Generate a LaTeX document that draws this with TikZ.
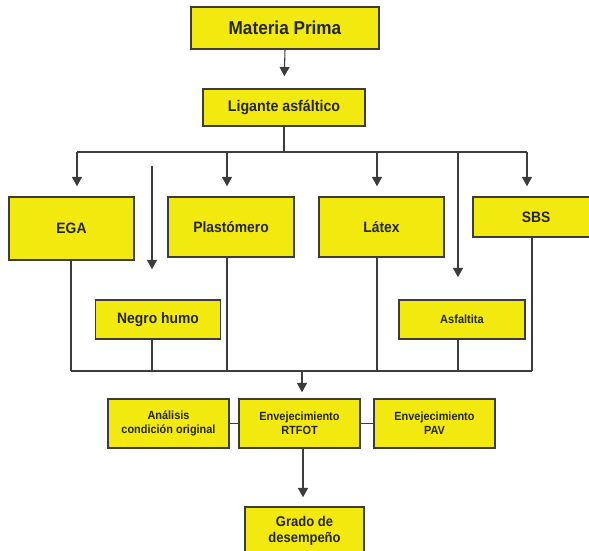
\documentclass[tikz,border=0pt]{standalone}
\usepackage{fontspec}
\setmainfont{Liberation Sans}[FakeStretch=0.92]
\usetikzlibrary{arrows.meta}
\definecolor{boxyellow}{RGB}{242,233,14}
\definecolor{lineg}{RGB}{60,60,60}
\tikzset{
  box/.style={draw=lineg, line width=1.1pt, fill=boxyellow, rectangle, inner sep=0pt,
    align=center, font=\bfseries, text=black!85},
  conn/.style={draw=lineg, line width=0.8pt},
  arr/.style={conn, -{Triangle[width=7.5pt,length=7pt]}},
}
\begin{document}
\begin{tikzpicture}[x=0.75pt,y=-0.75pt]
\useasboundingbox (0,0) rectangle (589,550);
\clip (0,0) rectangle (589,550);
% nodes
\node[box, minimum width=188*0.75pt, minimum height=42*0.75pt, font=\bfseries\fontsize{14}{16}\selectfont] (mp) at (285,28) {Materia Prima};
\node[box, minimum width=162*0.75pt, minimum height=37*0.75pt, font=\bfseries\fontsize{11.6}{13}\selectfont] (lig) at (284,107.5) {Ligante asfáltico};
\node[box, minimum width=125*0.75pt, minimum height=63*0.75pt, font=\bfseries\fontsize{11.3}{13}\selectfont] (ega) at (71.5,228.5) {EGA};
\node[box, minimum width=126*0.75pt, minimum height=60*0.75pt, font=\bfseries\fontsize{11.3}{13}\selectfont] (pla) at (231,227) {Plastómero};
\node[box, minimum width=125*0.75pt, minimum height=60*0.75pt, font=\bfseries\fontsize{11.3}{13}\selectfont] (lat) at (381.5,227) {Látex};
\node[box, minimum width=126*0.75pt, minimum height=40*0.75pt, font=\bfseries\fontsize{11.3}{13}\selectfont] (sbs) at (536,217) {SBS};
\node[box, minimum width=125*0.75pt, minimum height=39*0.75pt, font=\bfseries\fontsize{11.3}{13}\selectfont] (neg) at (158,319.5) {Negro humo};
\node[box, minimum width=126*0.75pt, minimum height=39*0.75pt, font=\bfseries\fontsize{9}{11}\selectfont] (asf) at (462,319.5) {Asfaltita};
\node[box, minimum width=121*0.75pt, minimum height=49*0.75pt, font=\bfseries\fontsize{8.9}{10.5}\selectfont] (ana) at (168.5,423.5) {Análisis\\condición original};
\node[box, minimum width=121*0.75pt, minimum height=49*0.75pt, font=\bfseries\fontsize{8.9}{10.5}\selectfont] (rtf) at (299.5,423.5) {Envejecimiento\\RTFOT};
\node[box, minimum width=121*0.75pt, minimum height=49*0.75pt, font=\bfseries\fontsize{8.9}{10.5}\selectfont] (pav) at (434.5,423.5) {Envejecimiento\\PAV};
\node[box, minimum width=119*0.75pt, minimum height=48*0.75pt, font=\bfseries\fontsize{10.6}{12}\selectfont] (gra) at (304.5,531) {Grado de\\desempeño};
% junction coordinates
\coordinate (J) at (284,152);
\coordinate (tEGA) at (77,152);
\coordinate (tPLA) at (227,152);
\coordinate (tLAT) at (377,152);
\coordinate (tASF) at (458,152);
\coordinate (tSBS) at (527,152);
\coordinate (nStart) at (152,166);
\coordinate (bEGA) at (71,371);
\coordinate (bNEG) at (152,371);
\coordinate (bPLA) at (227,371);
\coordinate (bLAT) at (377,371);
\coordinate (bASF) at (458,371);
\coordinate (bSBS) at (532,371);
\coordinate (B) at (302,371);
\coordinate (R) at (303,448);
% connectors
\draw[arr, shorten >=12*0.75pt] (mp.south) -- (lig.north);
\draw[conn] (lig.south) -- (J);
\draw[conn] (tEGA) -- (tSBS);
\draw[arr, shorten >=10*0.75pt] (tEGA) -- (tEGA |- ega.north);
\draw[arr, shorten >=10*0.75pt] (tPLA) -- (tPLA |- pla.north);
\draw[arr, shorten >=10*0.75pt] (tLAT) -- (tLAT |- lat.north);
\draw[arr, shorten >=10*0.75pt] (tSBS) -- (tSBS |- sbs.north);
\draw[arr, shorten >=22*0.75pt] (tASF) -- (tASF |- asf.north);
\draw[arr, shorten >=30*0.75pt] (nStart) -- (nStart |- neg.north);
\draw[conn] (bEGA |- ega.south) -- (bEGA);
\draw[conn] (bNEG |- neg.south) -- (bNEG);
\draw[conn] (bPLA |- pla.south) -- (bPLA);
\draw[conn] (bLAT |- lat.south) -- (bLAT);
\draw[conn] (bASF |- asf.south) -- (bASF);
\draw[conn] (bSBS |- sbs.south) -- (bSBS);
\draw[conn] (bEGA) -- (bSBS);
\draw[arr, shorten >=6*0.75pt] (B) -- (B |- rtf.north);
\draw[conn] (ana.east) -- (rtf.west);
\draw[conn] (rtf.east) -- (pav.west);
\draw[arr, shorten >=9*0.75pt] (R) -- (R |- gra.north);
\end{tikzpicture}
\end{document}
